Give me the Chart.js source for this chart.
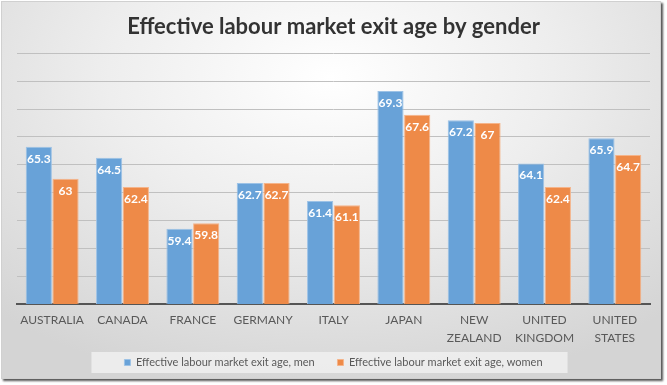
<!DOCTYPE html>
<html>
<head>
<meta charset="utf-8">
<script src="https://cdn.jsdelivr.net/npm/chart.js@4"></script>
<style>
  body { margin: 0; background: #fff; }
  .frame {
    position: absolute; left: 1px; top: 1px; width: 658px; height: 376px;
    background: radial-gradient(ellipse 75% 85% at 50% 20%, #ffffff 0%, #eeeeee 45%, #d4d4d4 100%);
    border: 1px solid #d0d0d0;
    box-shadow: 2px 2px 2px #555;
  }
  canvas { display: block; }
</style>
</head>
<body>
<div class="frame"><canvas id="chart" width="658" height="376"></canvas></div>
<script>
const countries = [
  "AUSTRALIA", "CANADA", "FRANCE", "GERMANY", "ITALY", "JAPAN",
  ["NEW", "ZEALAND"], ["UNITED", "KINGDOM"], ["UNITED", "STATES"]
]
const menAge = [65.3, 64.5, 59.4, 62.7, 61.4, 69.3, 67.2, 64.1, 65.9]
const womenAge = [63, 62.4, 59.8, 62.7, 61.1, 67.6, 67, 62.4, 64.7]
const seriesNames = ["Effective labour market exit age, men", "Effective labour market exit age, women"]

const font = "Lato, 'Open Sans', sans-serif"

// white value labels inside the top of each bar
const barLabels = {
  id: "barLabels",
  afterDatasetsDraw(chart) {
    const ctx = chart.ctx
    ctx.save()
    ctx.fillStyle = "#ffffff"
    ctx.font = "bold 12px " + font
    ctx.textAlign = "center"
    ctx.textBaseline = "middle"
    chart.data.datasets.forEach((ds, i) => {
      chart.getDatasetMeta(i).data.forEach((bar, j) => {
        ctx.fillText(String(ds.data[j]), bar.x, bar.y + 12)
      })
    })
    ctx.restore()
  }
}

// light panel behind the legend
const legendPanel = {
  id: "legendPanel",
  beforeDraw(chart) {
    const lg = chart.legend
    if (!lg || !lg.legendHitBoxes.length) return
    const boxes = lg.legendHitBoxes
    const left = Math.min(...boxes.map(b => b.left)) - 33
    const right = Math.max(...boxes.map(b => b.left + b.width)) + 25
    const top = boxes[0].top - 5
    const ctx = chart.ctx
    ctx.save()
    ctx.fillStyle = "rgba(240,240,240,0.85)"
    ctx.fillRect(left, top, right - left, boxes[0].height + 10)
    ctx.restore()
  }
}

new Chart(document.querySelector("#chart"), {
  type: "bar",
  data: {
    labels: countries,
    datasets: [
      {
        label: seriesNames[0],
        data: menAge,
        backgroundColor: "#68a2d8",
        borderColor: "#9cc2e6",
        borderWidth: 1
      },
      {
        label: seriesNames[1],
        data: womenAge,
        backgroundColor: "#ee8a48",
        borderColor: "#f5b48a",
        borderWidth: 1
      }
    ]
  },
  options: {
    responsive: false,
    animation: false,
    devicePixelRatio: 1,
    layout: { padding: { left: 15, right: 10, top: 4, bottom: 0 } },
    datasets: { bar: { categoryPercentage: 0.76, barPercentage: 0.98 } },
    scales: {
      x: {
        grid: { display: false, drawTicks: false },
        border: { display: true, color: "#555555", width: 2 },
        ticks: { color: "#595959", font: { family: font, size: 12, lineHeight: 1.5 }, padding: 7, maxRotation: 0, autoSkip: false }
      },
      y: {
        min: 54,
        max: 72,
        ticks: { stepSize: 2, display: false },
        grid: { color: "#c0c0c0", drawTicks: false },
        border: { display: false }
      }
    },
    plugins: {
      title: {
        display: true,
        text: "Effective labour market exit age by gender",
        color: "#333333",
        font: { family: font, size: 22, weight: "bold" },
        padding: { top: 8, bottom: 13 }
      },
      legend: {
        position: "bottom",
        labels: {
          color: "#595959",
          font: { family: font, size: 11 },
          boxWidth: 6,
          boxHeight: 6,
          padding: 3,
          generateLabels(chart) {
            const items = Chart.defaults.plugins.legend.labels.generateLabels(chart)
            items[0].text = items[0].text + "       "
            return items
          }
        }
      },
      tooltip: { enabled: false }
    }
  },
  plugins: [legendPanel, barLabels]
})
</script>
</body>
</html>
